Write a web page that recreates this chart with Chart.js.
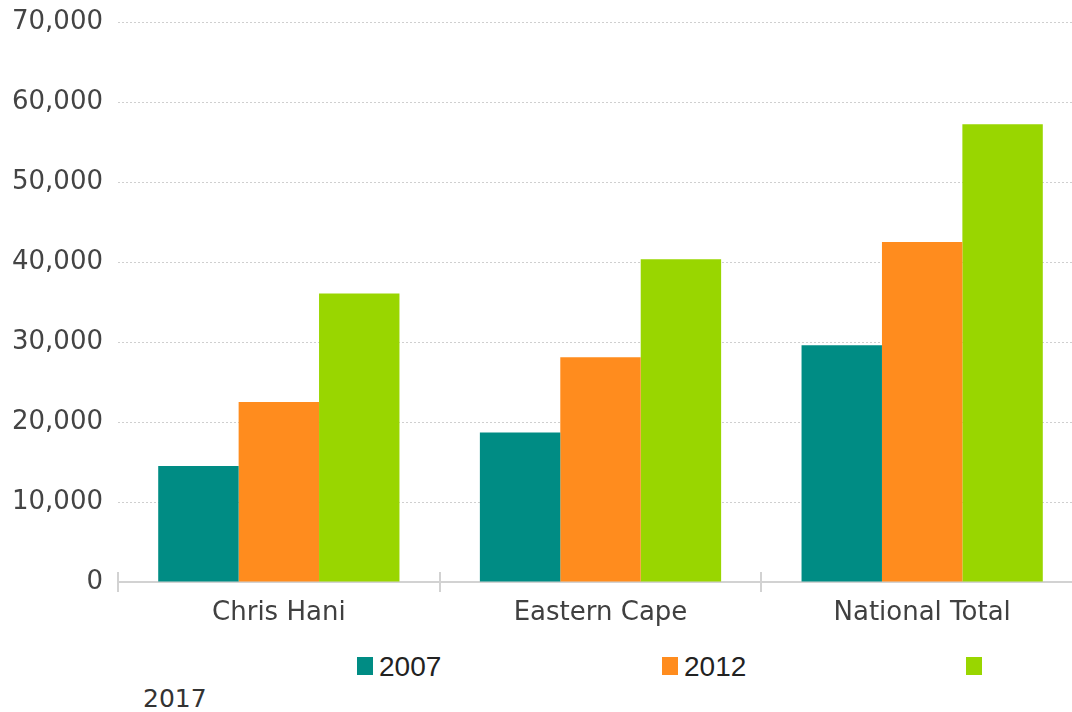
<!DOCTYPE html>
<html>
<head>
<meta charset="utf-8">
<title>Chris Hani, Eastern Cape, National Total</title>
<script src="https://cdn.jsdelivr.net/npm/chart.js@4"></script>
<style>
  html, body { margin: 0; padding: 0; background: #fff; overflow: hidden; }
  #wrap { position: relative; width: 1100px; height: 642px; }
  .box { position: absolute; width: 16px; height: 18px; }
  .lbl { position: absolute; line-height: 1; color: #222; white-space: nowrap; }
</style>
</head>
<body>
<div id="wrap"><canvas id="chart"></canvas></div>
<div id="legend"></div>
<script>
const categories = ["Chris Hani", "Eastern Cape", "National Total"];
const seriesNames = ["2007", "2012", "2017"];
const values2007 = [14500, 18700, 29580];
const values2012 = [22500, 28080, 42500];
const values2017 = [36050, 40330, 57220];
const yTicks = [0, 10000, 20000, 30000, 40000, 50000, 60000, 70000];
const colors = ["#008c84", "#ff8c1e", "#99d600"];

const axisFont = { family: "DejaVu Sans, Verdana, sans-serif", size: 26 };

// tick marks crossing the x axis at each category boundary
const boundaryTicks = {
  id: "boundaryTicks",
  afterDraw(chart) {
    const x = chart.scales.x;
    const ctx = chart.ctx;
    const step = x.getPixelForValue(1) - x.getPixelForValue(0);
    const start = x.getPixelForValue(0) - step / 2;
    ctx.save();
    ctx.strokeStyle = "#d2d2d2";
    ctx.lineWidth = 2;
    for (let i = 0; i <= categories.length; i++) {
      const px = Math.round(start + i * step);
      ctx.beginPath();
      ctx.moveTo(px, x.top - 10);
      ctx.lineTo(px, x.top + 10);
      ctx.stroke();
    }
    ctx.restore();
  }
};

const chart = new Chart(document.getElementById("chart"), {
  type: "bar",
  data: {
    labels: categories,
    datasets: [values2007, values2012, values2017].map((vals, i) => ({
      label: seriesNames[i],
      data: vals,
      backgroundColor: colors[i],
      borderWidth: 0,
      categoryPercentage: 0.75,
      barPercentage: 1.0
    }))
  },
  options: {
    responsive: true,
    maintainAspectRatio: false,
    animation: false,
    layout: { padding: { top: 22, right: 17, left: 0, bottom: 0 } },
    plugins: {
      legend: { display: false },
      tooltip: { enabled: false }
    },
    scales: {
      x: {
        grid: { display: false, drawTicks: false },
        border: { display: true, color: "#d2d2d2", width: 2 },
        ticks: { font: axisFont, color: "#404040", padding: 16 },
        afterFit(scale) { scale.height = 60; }
      },
      y: {
        min: 0,
        max: 70000,
        afterBuildTicks(scale) { scale.ticks = yTicks.map(v => ({ value: v })); },
        grid: { color: "#cfcfcf", lineWidth: 1, drawTicks: false },
        border: { display: false, dash: [2, 2] },
        ticks: {
          font: axisFont,
          color: "#444",
          padding: 15,
          callback: v => v.toLocaleString("en-US")
        },
        afterFit(scale) {
          scale.width = 118;
          scale.paddingTop = 0;
          scale.paddingBottom = 0;
        }
      }
    }
  },
  plugins: [boundaryTicks]
});

// legend: three swatches in a row, the last label wraps to a second line
const legend = document.getElementById("legend");
const swatchX = [357, 662, 966];
seriesNames.forEach((name, i) => {
  const box = document.createElement("div");
  box.className = "box";
  box.style.left = swatchX[i] + "px";
  box.style.top = "657px";
  box.style.background = colors[i];
  legend.appendChild(box);

  const lbl = document.createElement("div");
  lbl.className = "lbl";
  lbl.textContent = name;
  if (i < 2) {
    lbl.style.left = (swatchX[i] + 22) + "px";
    lbl.style.top = "653px";
    lbl.style.fontFamily = "Liberation Sans, Arial, sans-serif";
    lbl.style.fontSize = "28px";
  } else {
    lbl.style.left = "143px";
    lbl.style.top = "686px";
    lbl.style.fontFamily = "DejaVu Sans, Verdana, sans-serif";
    lbl.style.fontSize = "25px";
    lbl.style.color = "#333";
  }
  legend.appendChild(lbl);
});
</script>
</body>
</html>
